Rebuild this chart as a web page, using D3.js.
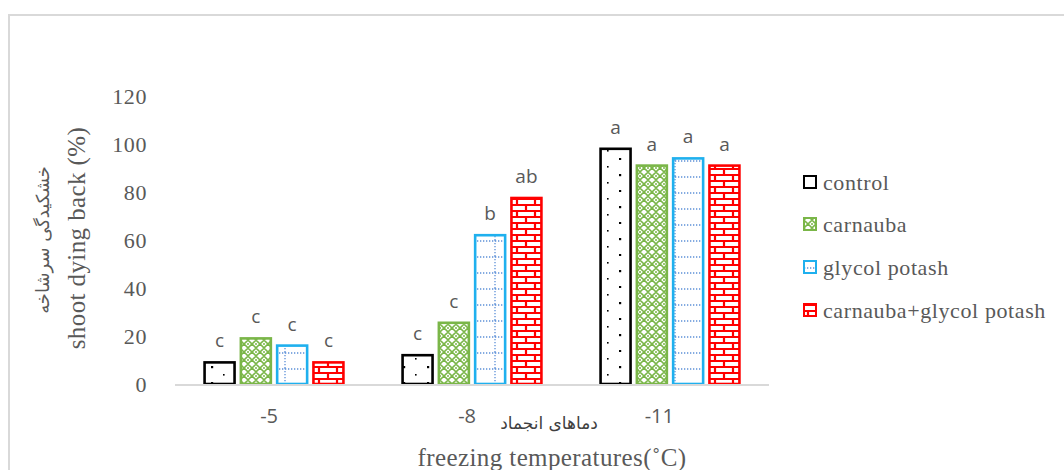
<!DOCTYPE html>
<html>
<head>
<meta charset="utf-8">
<script src="https://cdn.jsdelivr.net/npm/d3@7"></script>
<style>
  body { margin: 0; background: #fff; }
  svg { display: block; }
</style>
</head>
<body>
<div id="graphic"></div>
<script>
// data
var temps = ["-5", "-8", "-11"];
var series = ["control", "carnauba", "glycol potash", "carnauba+glycol potash"];
var control = [9, 12, 98];
var carnauba = [19, 25.5, 91];
var glycol = [16, 62, 94];
var combo = [9, 77.5, 91];
var letters = [
  ["c", "c", "a"],
  ["c", "c", "a"],
  ["c", "b", "a"],
  ["c", "ab", "a"]
];
var yTicks = [0, 20, 40, 60, 80, 100, 120];

var values = [control, carnauba, glycol, combo];
var colors = ["#000000", "#7ab648", "#1fb0ee", "#ff0000"];
var fills = ["url(#pDots)", "url(#pLattice)", "url(#pGrid)", "url(#pBrick)"];

var width = 1064, height = 470;
var svg = d3.select("#graphic").append("svg")
    .attr("width", width)
    .attr("height", height);

// ---- patterns
var defs = svg.append("defs");

var pd = defs.append("pattern").attr("id", "pDots")
    .attr("patternUnits", "userSpaceOnUse").attr("width", 24).attr("height", 32);
pd.append("rect").attr("width", 24).attr("height", 32).attr("fill", "#fff");
[[7, 6], [19, 14], [7, 22], [19, 30]].forEach(function (p, i) {
  pd.append("rect").attr("x", p[0]).attr("y", p[1])
    .attr("width", i % 2 ? 2.2 : 1.6).attr("height", i % 2 ? 2.2 : 1.6).attr("fill", "#000");
});

var pl = defs.append("pattern").attr("id", "pLattice")
    .attr("patternUnits", "userSpaceOnUse").attr("width", 8).attr("height", 8);
pl.append("rect").attr("width", 8).attr("height", 8).attr("fill", "#fff");
pl.append("path").attr("d", "M0,4 L4,0 L8,4 L4,8 Z")
    .attr("fill", "none").attr("stroke", "#7ab648").attr("stroke-width", 1.6);
pl.append("path").attr("d", "M0,0 L1,0 M7,0 L8,0 M0,8 L1,8 M7,8 L8,8")
    .attr("stroke", "#7ab648").attr("stroke-width", 1.6);

var pg = defs.append("pattern").attr("id", "pGrid")
    .attr("patternUnits", "userSpaceOnUse").attr("width", 30).attr("height", 16);
pg.append("rect").attr("width", 30).attr("height", 16).attr("fill", "#fff");
pg.append("line").attr("x1", 0).attr("x2", 30).attr("y1", 1).attr("y2", 1)
    .attr("stroke", "#5b8fd8").attr("stroke-width", 1.3).attr("stroke-dasharray", "1.3,1.7");
pg.append("line").attr("x1", 15).attr("x2", 15).attr("y1", 0).attr("y2", 16)
    .attr("stroke", "#5b8fd8").attr("stroke-width", 1.3).attr("stroke-dasharray", "1.3,1.7");

var pb = defs.append("pattern").attr("id", "pBrick")
    .attr("patternUnits", "userSpaceOnUse").attr("width", 18).attr("height", 12);
pb.append("rect").attr("width", 18).attr("height", 12).attr("fill", "#fff");
pb.append("path")
    .attr("d", "M0,1 H18 M0,7 H18 M4,1 V7 M13,7 V13")
    .attr("stroke", "#ff0000").attr("stroke-width", 2.2).attr("fill", "none");

// ---- frame
svg.append("rect")
    .attr("x", 9).attr("y", 15).attr("width", 1100).attr("height", 500)
    .attr("fill", "none").attr("stroke", "#d9d9d9").attr("stroke-width", 2);

// ---- scales
var y = d3.scaleLinear().domain([0, 120]).range([384, 96]);
var x0 = d3.scaleBand().domain(temps).range([175, 769]).padding(0);
var x1 = d3.scaleBand().domain(series).range([0, x0.bandwidth()])
    .paddingInner(0.174).paddingOuter(0.815);

var serif = "'Liberation Serif', 'Times New Roman', serif";

// y tick labels
svg.selectAll("text.ytick")
    .data(yTicks)
  .enter().append("text")
    .attr("class", "ytick")
    .attr("x", 147)
    .attr("y", function (d) { return y(d); })
    .attr("dy", "0.35em")
    .attr("text-anchor", "end")
    .style("font-family", serif)
    .style("font-size", "22px")
    .style("letter-spacing", "0.6px")
    .style("fill", "#595959")
    .text(function (d) { return d; });

// bars
var rows = [];
series.forEach(function (s, i) {
  temps.forEach(function (t, j) {
    rows.push({ s: s, t: t, v: values[i][j], i: i, lab: letters[i][j] });
  });
});

svg.selectAll("rect.bar")
    .data(rows)
  .enter().append("rect")
    .attr("class", "bar")
    .attr("x", function (d) { return x0(d.t) + x1(d.s); })
    .attr("y", function (d) { return y(d.v); })
    .attr("width", x1.bandwidth())
    .attr("height", function (d) { return y(0) - y(d.v); })
    .attr("fill", function (d) { return fills[d.i]; })
    .attr("stroke", function (d) { return colors[d.i]; })
    .attr("stroke-width", 2.6);

// letters above bars
svg.selectAll("text.lab")
    .data(rows)
  .enter().append("text")
    .attr("class", "lab")
    .attr("x", function (d) { return x0(d.t) + x1(d.s) + x1.bandwidth() / 2; })
    .attr("y", function (d) { return y(d.v) - 15; })
    .attr("text-anchor", "middle")
    .style("font-family", "'Open Sans', sans-serif")
    .style("font-size", "19px")
    .style("fill", "#595959")
    .text(function (d) { return d.lab; });

// x axis line
svg.append("line")
    .attr("x1", 175).attr("x2", 769)
    .attr("y1", 385).attr("y2", 385)
    .attr("stroke", "#d9d9d9").attr("stroke-width", 2);

// x tick labels
svg.selectAll("text.xtick")
    .data(temps)
  .enter().append("text")
    .attr("class", "xtick")
    .attr("x", function (d) { return x0(d) + x0.bandwidth() / 2 + 4; })
    .attr("y", 423)
    .attr("text-anchor", "end")
    .style("font-family", "'Open Sans', sans-serif")
    .style("font-size", "20px")
    .style("fill", "#595959")
    .text(function (d) { return d; });

// axis titles
svg.append("text")
    .attr("x", 549).attr("y", 429)
    .attr("text-anchor", "middle")
    .style("font-family", "'DejaVu Sans', sans-serif")
    .style("font-size", "17px")
    .style("fill", "#404040")
    .text("دماهای انجماد");

svg.append("text")
    .attr("x", 552).attr("y", 466)
    .attr("text-anchor", "middle")
    .style("font-family", serif)
    .style("font-size", "25px")
    .style("letter-spacing", "0.4px")
    .style("fill", "#595959")
    .text("freezing temperatures(˚C)");

svg.append("text")
    .attr("transform", "translate(85,238) rotate(-90)")
    .attr("text-anchor", "middle")
    .style("font-family", serif)
    .style("font-size", "25px")
    .style("letter-spacing", "0.4px")
    .style("fill", "#595959")
    .text("shoot dying back (%)");

svg.append("text")
    .attr("transform", "translate(49,240) rotate(-90)")
    .attr("text-anchor", "middle")
    .style("font-family", "'DejaVu Sans', sans-serif")
    .style("font-size", "18px")
    .style("fill", "#595959")
    .text("خشکیدگی سرشاخه");

// legend
var legY = [182, 224, 267, 310];
var leg = svg.selectAll("g.leg")
    .data(series)
  .enter().append("g")
    .attr("class", "leg")
    .attr("transform", function (d, i) { return "translate(804," + legY[i] + ")"; });

leg.append("rect")
    .attr("x", 0).attr("y", -6)
    .attr("width", 12).attr("height", 12)
    .attr("fill", function (d, i) { return i === 0 ? "#fff" : fills[i]; })
    .attr("stroke", function (d, i) { return colors[i]; })
    .attr("stroke-width", 2);

leg.append("text")
    .attr("x", 19)
    .attr("dy", "0.35em")
    .style("font-family", serif)
    .style("font-size", "22px")
    .style("letter-spacing", "0.6px")
    .style("fill", "#595959")
    .text(function (d) { return d; });
</script>
</body>
</html>
